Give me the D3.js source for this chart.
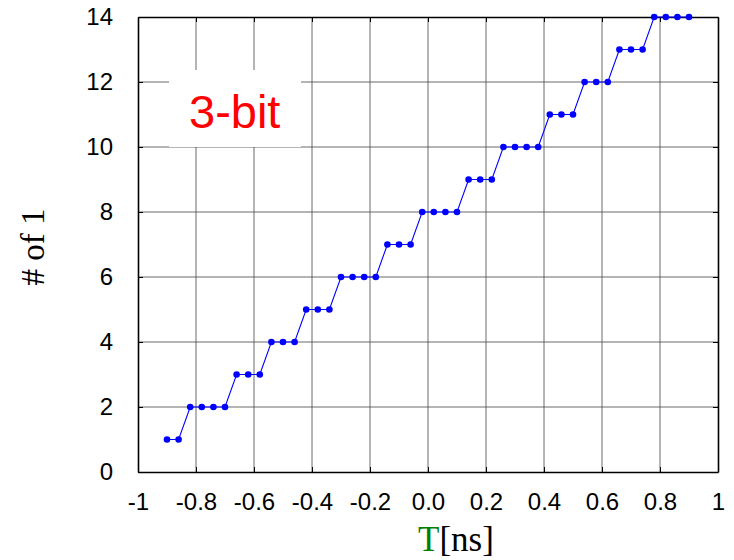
<!DOCTYPE html>
<meta charset="utf-8">
<script src="https://d3js.org/d3.v7.min.js"></script>
<style>
  body { margin: 0; background: #fff; }
  .tick text { font-family: "Liberation Sans", Arial, sans-serif; }
</style>
<div id="my_dataviz"></div>
<script>
// time offsets (ns) and number of 1s
const tValues = [-0.90, -0.86, -0.82, -0.78, -0.74, -0.70, -0.66, -0.62, -0.58, -0.54,
                 -0.50, -0.46, -0.42, -0.38, -0.34, -0.30, -0.26, -0.22, -0.18, -0.14,
                 -0.10, -0.06, -0.02, 0.02, 0.06, 0.10, 0.14, 0.18, 0.22, 0.26,
                 0.30, 0.34, 0.38, 0.42, 0.46, 0.50, 0.54, 0.58, 0.62, 0.66,
                 0.70, 0.74, 0.78, 0.82, 0.86, 0.90]
const onesCount = [1, 1, 2, 2, 2, 2, 3, 3, 3, 4,
                   4, 4, 5, 5, 5, 6, 6, 6, 6, 7,
                   7, 7, 8, 8, 8, 8, 9, 9, 9, 10,
                   10, 10, 10, 11, 11, 11, 12, 12, 12, 13,
                   13, 13, 14, 14, 14, 14]
const xTicks = [-1, -0.8, -0.6, -0.4, -0.2, 0, 0.2, 0.4, 0.6, 0.8, 1]
const xTickLabels = ["-1", "-0.8", "-0.6", "-0.4", "-0.2", "0.0", "0.2", "0.4", "0.6", "0.8", "1"]
const yTicks = [0, 2, 4, 6, 8, 10, 12, 14]

const data = tValues.map((t, i) => ({ t: t, n: onesCount[i] }))

var margin = { top: 17, right: 16, bottom: 88, left: 138 },
    width = 734 - margin.left - margin.right,
    height = 560 - margin.top - margin.bottom

var svg = d3.select("#my_dataviz")
    .append("svg")
    .attr("width", 734)
    .attr("height", 560)
    .append("g")
    .attr("transform", "translate(" + margin.left + "," + margin.top + ")")

var x = d3.scaleLinear().domain([-1, 1]).range([0, width])
var y = d3.scaleLinear().domain([0, 14]).range([height, 0])

// grid
svg.append("g")
    .selectAll("line")
    .data(xTicks.slice(1, -1))
    .enter().append("line")
    .attr("x1", d => x(d)).attr("x2", d => x(d))
    .attr("y1", 0).attr("y2", height)
    .attr("stroke", "#444").attr("stroke-width", 0.8)
svg.append("g")
    .selectAll("line")
    .data(yTicks.slice(1, -1))
    .enter().append("line")
    .attr("x1", 0).attr("x2", width)
    .attr("y1", d => y(d)).attr("y2", d => y(d))
    .attr("stroke", "#444").attr("stroke-width", 0.8)

// white box behind the label
svg.append("rect")
    .attr("x", 31).attr("y", 53)
    .attr("width", 132).attr("height", 77)
    .attr("fill", "#fff")

svg.append("text")
    .attr("x", 51).attr("y", 111)
    .attr("fill", "#ff0000")
    .style("font-family", "'Liberation Sans', Arial, sans-serif")
    .style("font-size", "47px")
    .text("3-bit")

// axes with inward ticks
const fmt = d => xTickLabels[xTicks.indexOf(d)]
svg.append("g")
    .attr("transform", "translate(0," + height + ")")
    .call(d3.axisBottom(x).tickValues(xTicks).tickFormat(fmt).tickSizeInner(-5).tickSizeOuter(0).tickPadding(21))
svg.append("g")
    .call(d3.axisTop(x).tickValues(xTicks).tickFormat("").tickSizeInner(-5).tickSizeOuter(0))
svg.append("g")
    .call(d3.axisLeft(y).tickValues(yTicks).tickSizeInner(-5).tickSizeOuter(0).tickPadding(25))
svg.append("g")
    .attr("transform", "translate(" + width + ",0)")
    .call(d3.axisRight(y).tickValues(yTicks).tickFormat("").tickSizeInner(-5).tickSizeOuter(0))

svg.selectAll(".domain").attr("stroke", "#000").attr("stroke-width", 1.6)
svg.selectAll(".tick line").attr("stroke", "#000")
svg.selectAll(".tick text").style("font-size", "24px").attr("fill", "#000")

// line + markers
svg.append("path")
    .datum(data)
    .attr("fill", "none")
    .attr("stroke", "#0000ff")
    .attr("stroke-width", 1.1)
    .attr("d", d3.line().x(d => x(d.t)).y(d => y(d.n)))

svg.append("g")
    .selectAll("circle")
    .data(data)
    .enter().append("circle")
    .attr("cx", d => x(d.t))
    .attr("cy", d => y(d.n))
    .attr("r", 3.3)
    .attr("fill", "#0000ff")

// axis titles
var title = svg.append("text")
    .attr("x", 280).attr("y", 534)
    .style("font-family", "'Liberation Serif', 'Times New Roman', serif")
    .style("font-size", "35px")
title.append("tspan").attr("fill", "#008000").text("T")
title.append("tspan").attr("fill", "#000").text("[ns]")

svg.append("text")
    .attr("transform", "translate(-94," + (247 - margin.top) + ") rotate(-90)")
    .attr("text-anchor", "middle")
    .style("font-family", "'Liberation Serif', 'Times New Roman', serif")
    .style("font-size", "33px")
    .text("# of 1")
</script>
